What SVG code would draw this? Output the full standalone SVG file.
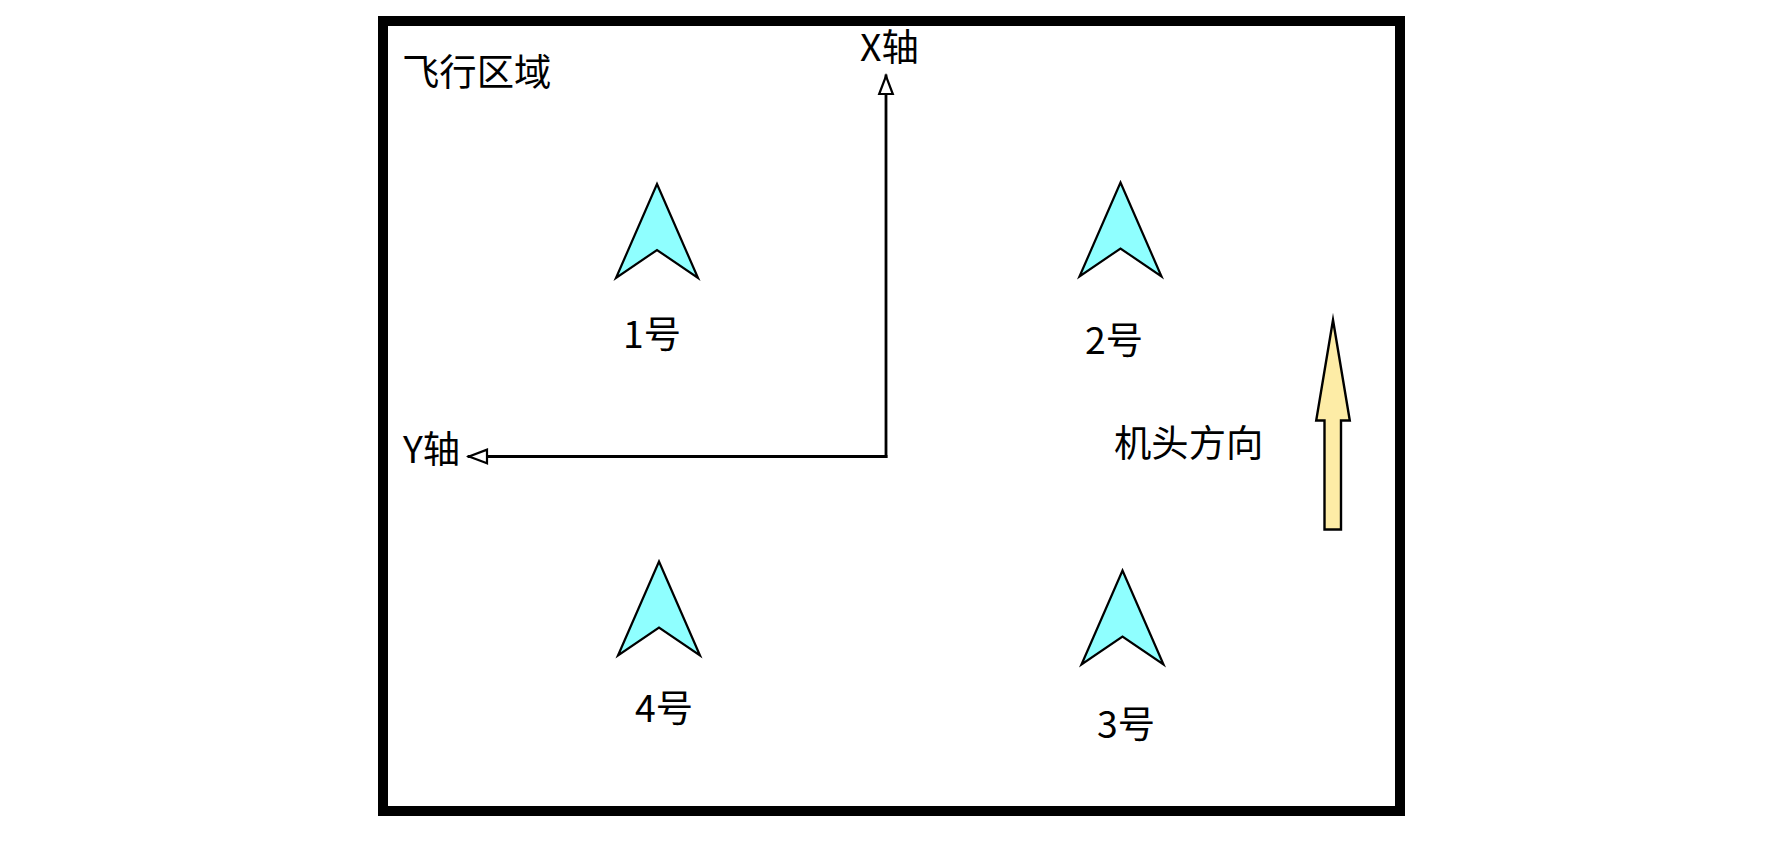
<svg xmlns="http://www.w3.org/2000/svg" width="1792" height="864" viewBox="0 0 1792 864">
<style>
text{font-family:"Noto Sans CJK SC","Noto Sans",sans-serif;font-size:37.33px;fill:#000}
.plane{fill:#8fffff;stroke:#000;stroke-width:2.2;stroke-miterlimit:10}
.axis{fill:none;stroke:#000;stroke-width:2.8;stroke-linecap:square;marker-end:url(#open)}
</style>
<defs>
<marker id="open" markerUnits="userSpaceOnUse" markerWidth="26" markerHeight="22" refX="21" refY="11" orient="auto" viewBox="0 0 26 22">
<path d="M3 4.2L21 11L3 17.8Z" fill="#fff" stroke="#000" stroke-width="2.2" stroke-miterlimit="10"/>
</marker>
<polygon id="dart" class="plane" points="41,0 82,94 41,66 0,94"/>
</defs>
<rect x="383" y="21" width="1017" height="790" fill="#fff" stroke="#000" stroke-width="10"/>
<text x="402" y="86">飞行区域</text>
<g id="connectors">
<path id="x-axis" class="axis" d="M886 456.5V76"/>
<path id="y-axis" class="axis" d="M886 456.5H469"/>
</g>
<text x="860" y="61">X轴</text>
<text x="403" y="463">Y轴</text>
<g id="plane1"><use href="#dart" x="616" y="184"/><text x="623" y="348">1号</text></g>
<g id="plane2"><use href="#dart" x="1079.5" y="182.5"/><text x="1085" y="354">2号</text></g>
<g id="plane3"><use href="#dart" x="1081.5" y="570.5"/><text x="1097" y="738">3号</text></g>
<g id="plane4"><use href="#dart" x="618" y="561.5"/><text x="635" y="722">4号</text></g>
<text x="1114" y="457">机头方向</text>
<polygon id="heading" points="1333,320 1349.8,420.5 1341,420.5 1341,529.5 1324.5,529.5 1324.5,420.5 1316.2,420.5" fill="#fdeca6" stroke="#000" stroke-width="2.4" stroke-miterlimit="10"/>
</svg>
